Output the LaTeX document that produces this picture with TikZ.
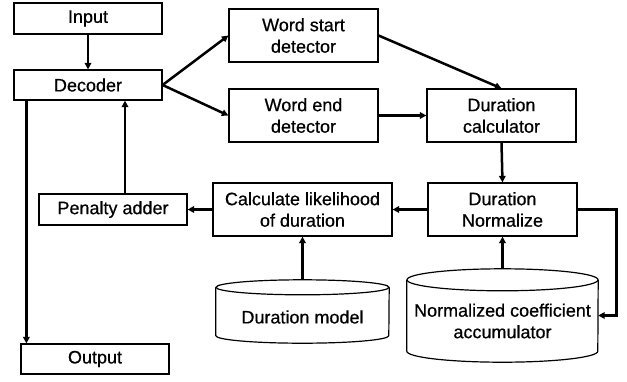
\documentclass[tikz,border=0pt]{standalone}
\usepackage{fontspec}
\setmainfont[FakeBold=0.6]{Liberation Sans}
\usetikzlibrary{arrows.meta,positioning}

% cylinder outline around a named node: name, x radius, y radius
\newcommand{\drumline}[3]{%
  \draw[boxline] ([yshift=-#3pt]#1.north west) -- ([yshift=#3pt]#1.south west)
    arc[start angle=180, end angle=360, x radius=#2pt, y radius=#3pt]
    -- ([yshift=-#3pt]#1.north east);
  \draw[boxline] ([yshift=-#3pt]#1.north) ellipse[x radius=#2pt, y radius=#3pt];
}

\begin{document}
\begin{tikzpicture}[x=1pt, y=-1pt,
        block/.style={
          draw=black,
          line width=1.2pt,
          align=center,
          inner sep=0pt,
          minimum width=148pt,
          font=\fontsize{18}{21.5}\selectfont
        },
        boxline/.style={line width=1.2pt},
        store/.style={minimum width=#1, inner sep=0pt},
        dbtext/.style={align=center, font=\fontsize{18}{21.5}\selectfont},
        arrow/.style={-{Triangle[length=6.5pt,width=6.5pt]}, line width=2.5pt}
      ]
        \useasboundingbox (0,0) rectangle (627,381);

        \node[block, minimum height=31pt] (input) at (88,18.5) {Input};
        \node[block, minimum height=30pt] (decoder) at (88,85) {Decoder};
        \node[block, minimum width=149pt, minimum height=53pt] (wstart) at (303.5,35.5) {Word start\\detector};
        \node[block, minimum width=149pt, minimum height=53pt] (wend) at (303.5,115.5) {Word end\\detector};
        \node[block, minimum width=149pt, minimum height=53pt] (dcalc) at (501.5,115.5) {Duration\\calculator};
        \node[block, minimum width=149pt, minimum height=53pt] (dnorm) at (502.5,209.5) {Duration\\Normalize};
        \node[block, minimum width=179pt, minimum height=53pt] (calclik) at (302.5,209.5) {Calculate likelihood\\of duration};
        \node[block, minimum height=31pt] (penalty) at (113,209.5) {Penalty adder};
        \node[block, minimum height=30pt] (output) at (95,359) {Output};

        % databases
        \node[store=173pt, minimum height=63pt] (dmodel) at (302.5,311.5) {};
        \drumline{dmodel}{86.5}{7.5}
        \node[dbtext] (dmodeltext) at (302.5,317) {Duration model};
        \node[store=191pt, minimum height=93pt] (ncacc) at (502.5,315.5) {};
        \drumline{ncacc}{95.5}{11}
        \node[dbtext] (ncacctext) at (502.5,321) {Normalized coefficient\\accumulator};

        \draw[arrow] (input.south) -- (decoder.north);
        \draw[arrow] (decoder.east) -- (wstart.west);
        \draw[arrow] (decoder.east) -- (wend.west);
        \draw[arrow] (wstart.east) -- (dcalc.north);
        \draw[arrow] (wend.east) -- (dcalc.west);
        \draw[arrow] (dcalc.south) -- (dnorm.north);
        \draw[arrow] (dnorm.west) -- (calclik.east);
        \draw[arrow] (calclik.west) -- (penalty.east);
        \draw[arrow] ([xshift=12pt]penalty.north) -- ([xshift=12pt]penalty.north |- decoder.south);
        \draw[arrow] ([xshift=13pt]decoder.south west) -- ([xshift=13pt]decoder.south west |- output.north);
        \draw[arrow] (dmodel.north) -- (calclik.south);
        \draw[arrow] (ncacc.north) -- (dnorm.south);
        \draw[arrow] (dnorm.east) -- ++(39,0) |- (ncacc.east);
      \end{tikzpicture}
\end{document}
